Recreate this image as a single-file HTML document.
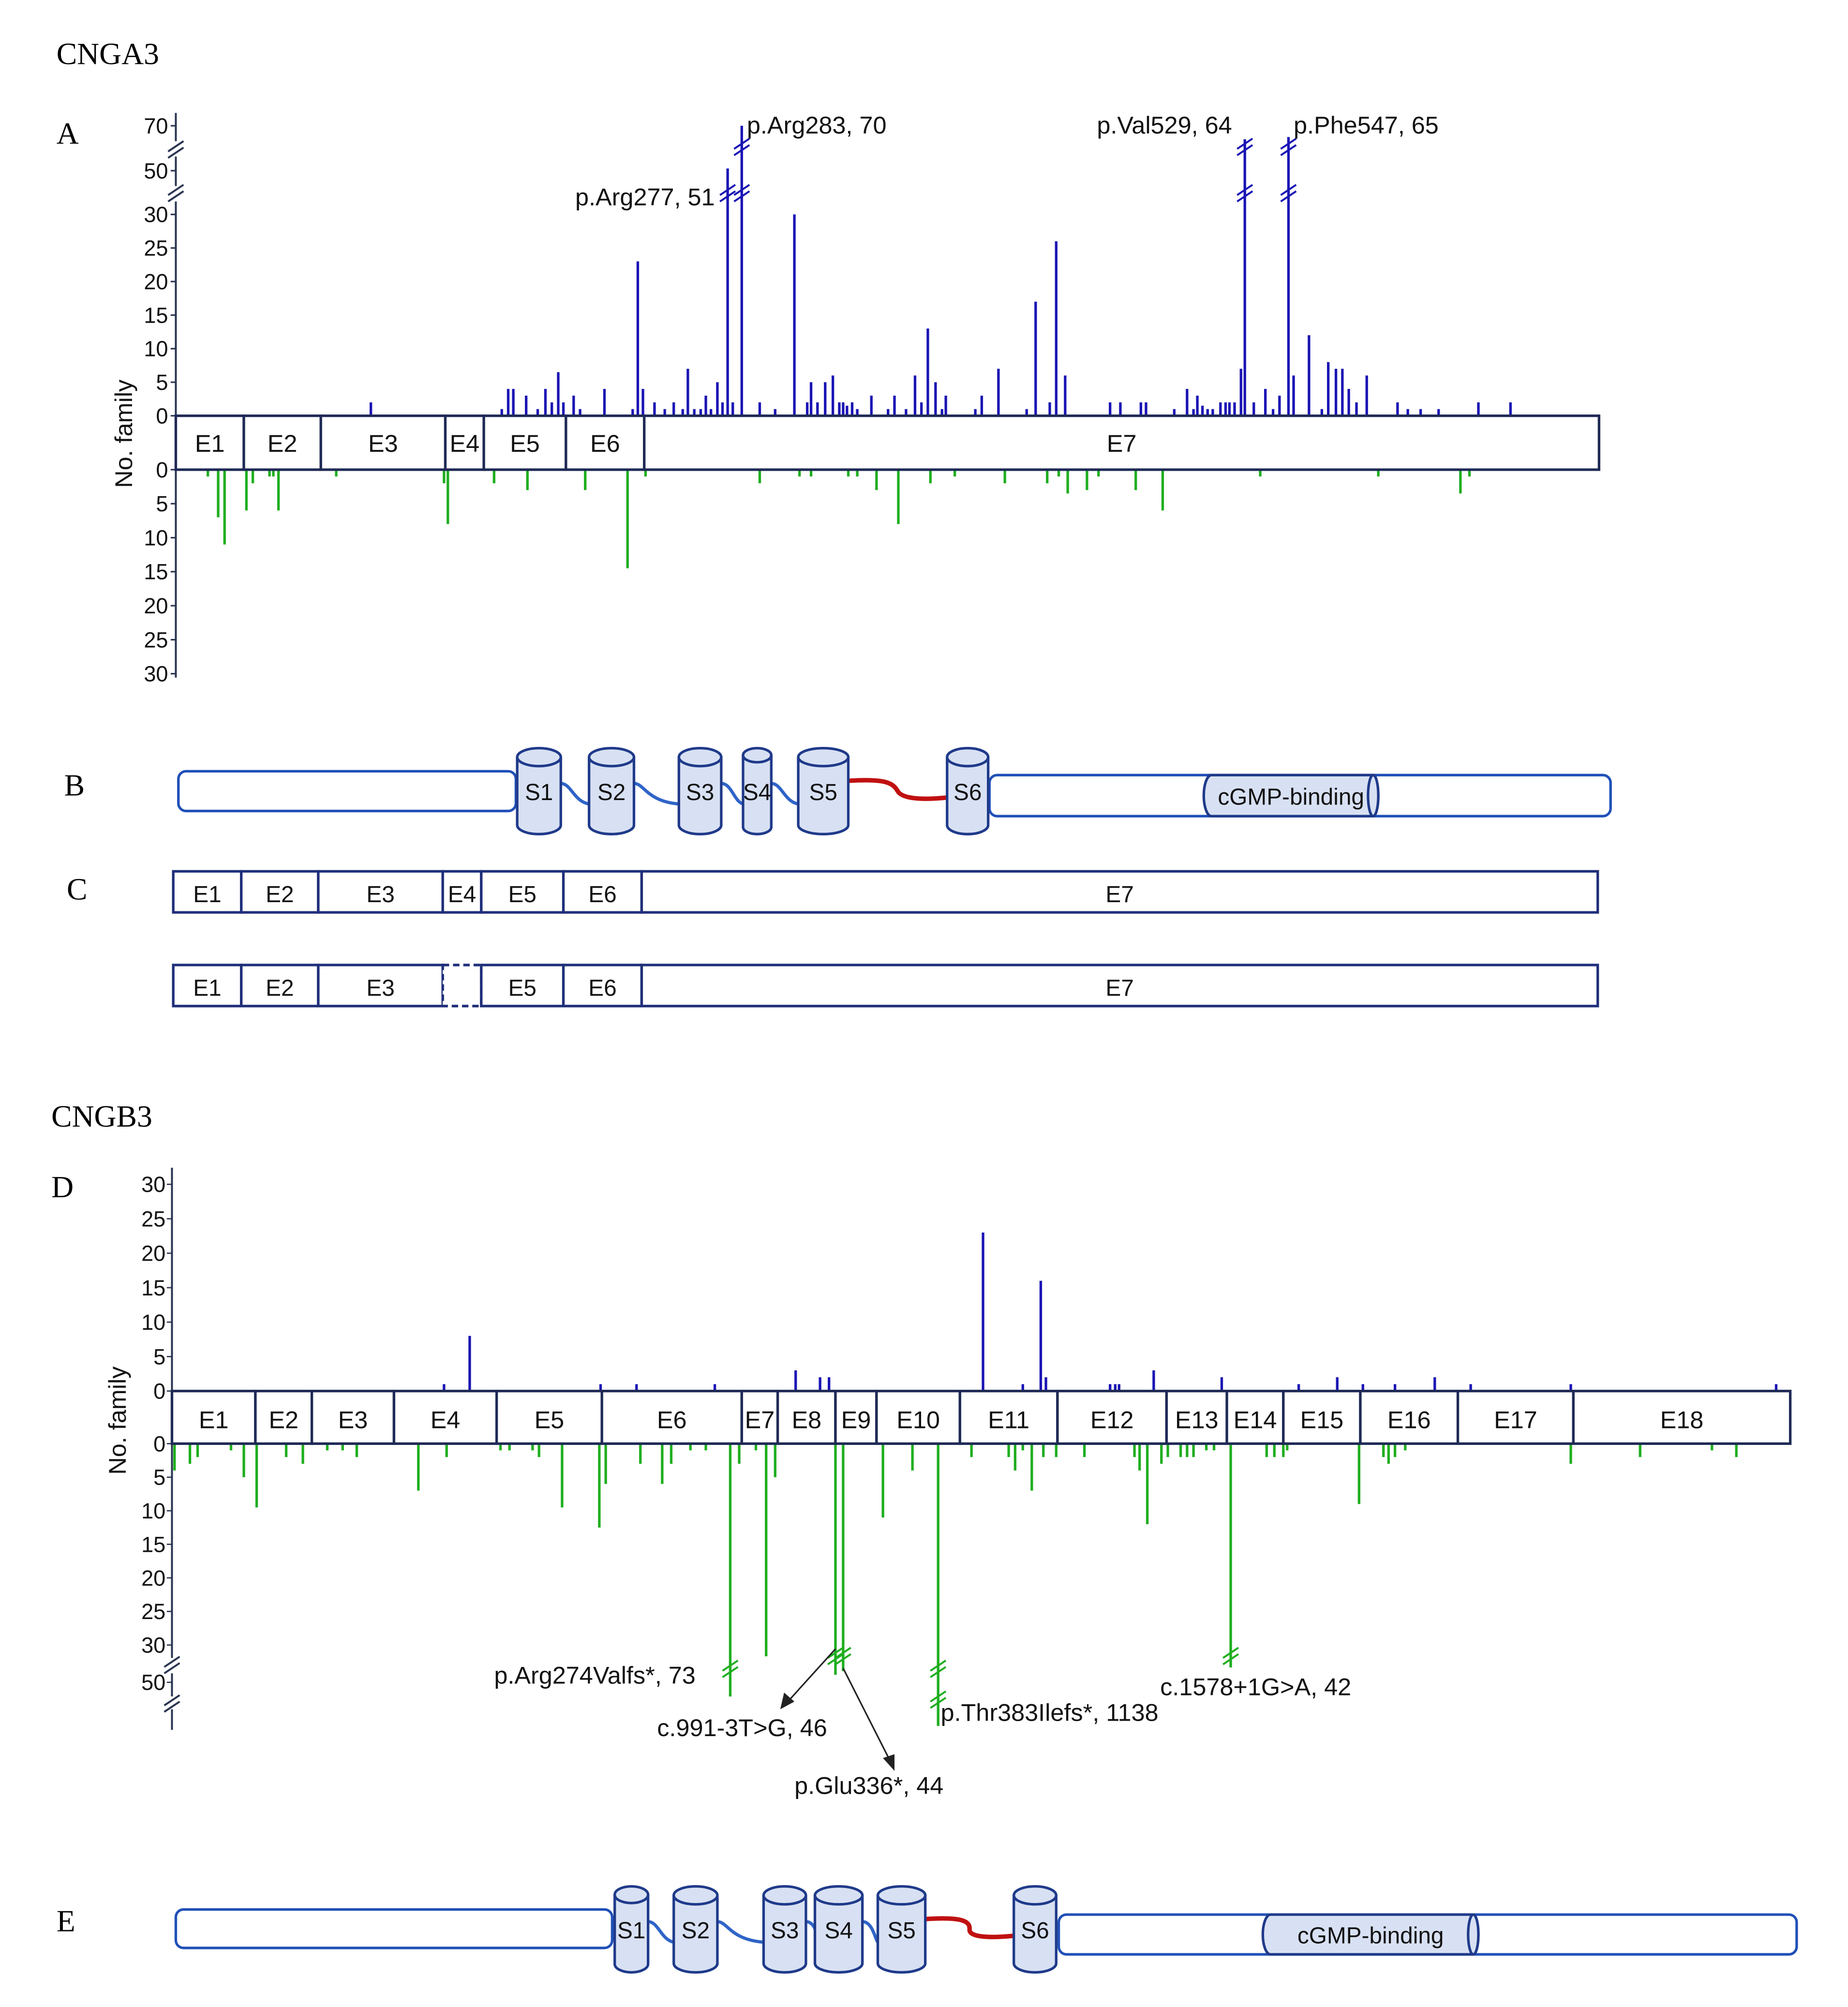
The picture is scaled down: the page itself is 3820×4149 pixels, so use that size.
<!DOCTYPE html>
<html><head><meta charset="utf-8"><style>
html,body{margin:0;padding:0;background:#fff;}
svg{display:block;font-family:"Liberation Sans",sans-serif;}
.ser{font-family:"Liberation Serif",serif;}
</style></head><body>
<svg id="fig" xmlns="http://www.w3.org/2000/svg" width="3820" height="4149" viewBox="0 0 1440 1564">
<rect x="0" y="0" width="1440" height="1564" fill="#fff"/>
<text class="ser" x="44" y="50" font-size="24">CNGA3</text>
<text class="ser" x="44" y="112" font-size="24">A</text>
<text class="ser" x="50" y="620" font-size="24">B</text>
<text class="ser" x="52" y="701" font-size="24">C</text>
<text class="ser" x="40" y="878" font-size="24">CNGB3</text>
<text class="ser" x="40" y="933" font-size="24">D</text>
<text class="ser" x="44" y="1505" font-size="24">E</text>
<g id="layer"></g>
</svg>
<script>
// ---------- CNGA3 data (position along gene, relative units 0..1109) ----------
const aUpPos = [152,254,259,263,273,282,288,293,298,302,310,315,334,356,360,364,373,381,388,395,399,404,409,413,417,422,426,430,434,441,455,467,482,492,495,500,506,512,517,520,523,527,531,542,555,560,569,576,581,586,592,597,600,623,628,641,663,670,681,686,693,728,736,752,756,778,788,793,796,800,804,808,814,818,821,825,830,833,840,849,855,860,867,871,883,893,898,904,909,914,920,928,952,960,970,984,1015,1040];
const aUpVal = [2,1,4,4,3,1,4,2,6.5,2,3,1,4,1,23,4,2,1,2,1,7,1,1,3,1,5,2,51,2,70,2,1,30,2,5,2,5,6,2,2,1.5,2,1,3,1,3,1,6,2,13,5,1,3,1,3,7,1,17,2,26,6,2,2,2,2,1,4,1,3,1.5,1,1,2,2,2,2,7,64,2,4,1,3,65,6,12,1,8,7,7,4,2,6,2,1,1,1,2,2];
const aLoPos = [25,33,38,55,60,73,76,80,125,209,212,248,274,319,352,366,455,486,495,524,531,546,563,588,607,646,679,688,695,710,719,748,769,845,937,1001,1008];
const aLoVal = [1,7,11,6,2,1,1,6,1,2,8,2,3,3,14.5,1,2,1,1,1,1,3,8,2,1,2,2,1,3.5,3,1,3,6,1,1,3.5,1];
const aUpTicks = [0,5,10,15,20,25,30];
const aBreakTicks = [50,70];
const aLoTicks = [0,5,10,15,20,25,30];
const aExons = ["E1","E2","E3","E4","E5","E6","E7"];
const aExonEnds = [53,113,210,240,304,365,1109];
const aLabels = [["p.Arg277, 51",430,"end"],["p.Arg283, 70",441,"start"],["p.Val529, 64",833,"end"],["p.Phe547, 65",867,"start"]];
// ---------- CNGB3 data (relative units 0..1261) ----------
const dUpPos = [212,232,334,362,423,486,505,512,632,663,677,681,731,735,738,765,818,878,908,928,953,984,1012,1090,1250];
const dUpVal = [1,8,1,1,1,3,2,2,23,1,16,2,1,1,1,3,2,1,2,1,1,2,1,1,1];
const dLoPos = [2,14,20,46,56,66,89,102,121,133,144,192,214,256,263,281,286,304,333,338,365,382,389,404,416,435,442,455,463,470,517,523,554,577,597,623,652,657,663,670,679,689,711,750,754,760,771,776,786,791,796,806,812,825,853,859,866,869,925,944,948,953,961,1090,1144,1200,1219];
const dLoVal = [4,3,2,1,5,9.5,2,3,1,1,2,7,2,1,1,1,2,9.5,12.5,6,3,6,3,1,1,73,3,1,36,5,46,44,11,4,1138,2,2,4,1,7,2,2,2,2,4,12,3,2,2,2,2,1,1,42,2,2,2,1,9,2,3,2,1,3,2,1,2];
const dUpTicks = [0,5,10,15,20,25,30];
const dLoTicks = [0,5,10,15,20,25,30];
const dBreakTicks = [50];
const dExons = ["E1","E2","E3","E4","E5","E6","E7","E8","E9","E10","E11","E12","E13","E14","E15","E16","E17","E18"];
const dExonEnds = [65,109,173,253,335,444,472,517,549,614,690,775,822,866,926,1002,1092,1261];

const NS="http://www.w3.org/2000/svg";
const layer=document.getElementById('layer');
function mk(tag,attrs,parent){const e=document.createElementNS(NS,tag);for(const k in attrs)e.setAttribute(k,attrs[k]);(parent||layer).appendChild(e);return e;}
function txt(x,y,s,size,anchor,parent){const t=mk('text',{x:x,y:y,'font-size':size,'text-anchor':anchor||'start',fill:'#111'},parent);t.textContent=s;return t;}
function brk(x,y,col,g){mk('path',{d:`M${x-6} ${y+4} L${x+6} ${y-4} M${x-6} ${y+9} L${x+6} ${y+1}`,stroke:col,'stroke-width':1.5,fill:'none'},g);}

// ===== Panel A =====
const AX0=137, AW=1109;
const ax = p => AX0 + p*AW/1109;
const ayUp = v => v<=30 ? 324 - v*5.23 : 133 - (v-50)*1.75;
const ayLo = v => 366 + v*5.3;
const gA=mk('g',{});


// axis
mk('path',{d:'M137 88 L137 110 M137 122 L137 145 M137 157 L137 324 M137 366 L137 528',stroke:'#2a3550','stroke-width':1.5,fill:'none'},gA);
brk(137,114,'#2a3550',gA); brk(137,148,'#2a3550',gA);
aUpTicks.concat(aBreakTicks).forEach(t=>{const y=ayUp(t);mk('line',{x1:133,x2:137,y1:y,y2:y,stroke:'#2a3550','stroke-width':1.2},gA);const tt=txt(131,y+6,String(t),17,'end',gA);});
aLoTicks.forEach(t=>{const y=ayLo(t);mk('line',{x1:133,x2:137,y1:y,y2:y,stroke:'#2a3550','stroke-width':1.2},gA);const tt=txt(131,y+6,String(t),17,'end',gA);});
const ylA=txt(0,0,'No. family',19,'middle',gA);ylA.setAttribute('transform','translate(103,338) rotate(-90)');

// bars
aUpPos.forEach((p,i)=>{const v=aUpVal[i],x=ax(p);
 const l=mk('line',{x1:x,x2:x,y1:324,y2:ayUp(v),stroke:'#1a14b4','stroke-width':2},gA);
 
 if(v>30){brk(x,148,'#1a14b4',gA); if(v>55) brk(x,112,'#1a14b4',gA);}
});
aLoPos.forEach((p,i)=>{const x=ax(p);
 const l=mk('line',{x1:x,x2:x,y1:366,y2:ayLo(aLoVal[i]),stroke:'#1fae1f','stroke-width':2},gA);
 });
// exon boxes
let prev=0;aExons.forEach((n,i)=>{const x1=ax(prev),x2=ax(aExonEnds[i]);
 const r=mk('rect',{x:x1,y:324,width:x2-x1,height:42,fill:'#fff',stroke:'#1f2a55','stroke-width':2},gA);
 
 txt((x1+x2)/2,352,n,19,'middle',gA);prev=aExonEnds[i];});
aLabels.forEach(l=>{const x=ax(l[1]);const v=aUpVal[aUpPos.indexOf(l[1])];const y=v>60?104:160;
 const t=txt(l[2]==='end'?x-10:x+4,y,l[0],19,l[2],gA);});

// ===== cylinder helper =====
function cyl(x,w,y1,y2,label,g){const rx=w/2,ry=Math.min(7,w/4);
 const c=mk('g',{},g);
 mk('path',{d:`M${x} ${y1+ry} L${x} ${y2-ry} A${rx} ${ry} 0 0 0 ${x+w} ${y2-ry} L${x+w} ${y1+ry}`,fill:'#d8e1f3',stroke:'#1f3a8a','stroke-width':2},c);
 mk('ellipse',{cx:x+rx,cy:y1+ry,rx:rx,ry:ry,fill:'#d8e1f3',stroke:'#1f3a8a','stroke-width':2},c);
 txt(x+rx,(y1+y2)/2+7,label,18,'middle',c);}
function hcyl(x1,x2,y,h,label,g){const c=mk('g',{},g);
 mk('path',{d:`M${x1+6} ${y} L${x2-4} ${y} A4 ${h/2} 0 0 1 ${x2-4} ${y+h} L${x1+6} ${y+h} A6 ${h/2} 0 0 1 ${x1+6} ${y}`,fill:'#d8e1f3',stroke:'#1f3a8a','stroke-width':2},c);
 mk('ellipse',{cx:x2-4,cy:y+h/2,rx:4,ry:h/2,fill:'#d8e1f3',stroke:'#1f3a8a','stroke-width':2},c);
 txt((x1+x2)/2,y+h/2+7,label,18,'middle',c);}
function protein(g,left,cyls,right,cg,yTop,yBot){
 mk('rect',{x:left[0],y:left[1],width:left[2]-left[0],height:left[3],rx:6,fill:'#fff',stroke:'#2050b8','stroke-width':2},g);
 mk('rect',{x:right[0],y:right[1],width:right[2]-right[0],height:right[3],rx:6,fill:'#fff',stroke:'#2050b8','stroke-width':2},g);
 // loops
 for(let i=0;i<cyls.length-1;i++){const a=cyls[i][0]+cyls[i][1],b=cyls[i+1][0];const m=(yTop+yBot)/2;
  const red=i===cyls.length-2;
  mk('path',{d:red?`M${a} ${m-8} C${a+30} ${m-10} ${a+35} ${m-6} ${(a+b)/2} ${m} S${b-20} ${m+7} ${b} ${m+5}`:`M${a} ${m-6} C${a+8} ${m-6} ${a+10} ${m+8} ${b} ${m+10}`,stroke:red?'#c01010':'#2f64c8','stroke-width':red?3.5:2.5,fill:'none'},g);}
 cyls.forEach(c=>cyl(c[0],c[1],yTop,yBot,c[2],g));
 hcyl(cg[0],cg[1],right[1],right[3],'cGMP-binding',g);}
const gB=mk('g',{});
protein(gB,[139,601,402,31],[[403,34,'S1'],[459,35,'S2'],[529,33,'S3'],[579,22,'S4'],[622,39,'S5'],[738,32,'S6']],[771,604,1255,32],[938,1074],583,650);
// ===== Panel C =====
function exonRow(y,dashE4,nm){const g=mk('g',{});
 const ends=[135,188,248,345,375,439,500,1245];
 for(let i=0;i<7;i++){const x1=ends[i],x2=ends[i+1];
  mk('rect',{x:x1,y:y,width:x2-x1,height:32,fill:'#fff',stroke:'#1f2f7a','stroke-width':2,'stroke-dasharray':(dashE4&&i===3)?'5,3':'none'},g);
  if(!(dashE4&&i===3)) txt((x1+x2)/2,y+24,aExons[i],18,'middle',g);}}
exonRow(679,false,'c-transcript-full');exonRow(752,true,'c-transcript-skip-e4');

// ===== Panel D =====
const DX0=134,DW=1261;
const dx=p=>DX0+p*DW/1261;
const dyUp=v=>1084-v*5.37;
const dyLo=v=>v<=30?1125+v*5.23:(v<=50?1282+(v-30)*1.45:Math.min(1345,1311+(v-50)*0.48));
const gD=mk('g',{});
mk('path',{d:'M134 910 L134 1084 M134 1125 L134 1292 M134 1304 L134 1322 M134 1332 L134 1348',stroke:'#2a3550','stroke-width':1.5,fill:'none'},gD);
brk(134,1295,'#2a3550',gD);brk(134,1325,'#2a3550',gD);
dUpTicks.forEach(t=>{const y=dyUp(t);mk('line',{x1:130,x2:134,y1:y,y2:y,stroke:'#2a3550'},gD);txt(129,y+6,String(t),17,'end',gD);});
dLoTicks.concat(dBreakTicks).forEach(t=>{const y=t===50?1311:dyLo(t);mk('line',{x1:130,x2:134,y1:y,y2:y,stroke:'#2a3550'},gD);txt(129,y+6,String(t),17,'end',gD);});
const ylD=txt(0,0,'No. family',19,'middle',gD);ylD.setAttribute('transform','translate(98,1107) rotate(-90)');

dUpPos.forEach((p,i)=>{const x=dx(p);const l=mk('line',{x1:x,x2:x,y1:1084,y2:dyUp(dUpVal[i]),stroke:'#1a14b4','stroke-width':2},gD);
 });
dLoPos.forEach((p,i)=>{const v=dLoVal[i],x=dx(p);const l=mk('line',{x1:x,x2:x,y1:1125,y2:dyLo(v),stroke:'#1fae1f','stroke-width':2},gD);
 
 if(v>38){brk(x,v>70?1298:1288,'#1fae1f',gD); if(v>1000) brk(x,1322,'#1fae1f',gD);}});
prev=0;dExons.forEach((n,i)=>{const x1=dx(prev),x2=dx(dExonEnds[i]);
 const r=mk('rect',{x:x1,y:1084,width:x2-x1,height:41,fill:'#fff',stroke:'#1f2a55','stroke-width':2},gD);
 
 txt((x1+x2)/2,1113,n,19,'middle',gD);prev=dExonEnds[i];});
[["p.Arg274Valfs*, 73",385,1312],["c.991-3T>G, 46",512,1353],["p.Glu336*, 44",619,1398],["p.Thr383Ilefs*, 1138",733,1341],["c.1578+1G>A, 42",904,1321]].forEach(a=>{
 const t=txt(a[1],a[2],a[0],19,'start',gD);});
mk('path',{d:'M651 1285 L613 1327',stroke:'#222','stroke-width':1.2,fill:'none'},gD);
mk('path',{d:'M608 1332 L611 1319 L619 1326 Z',fill:'#222'},gD);
mk('path',{d:'M657 1300 L695 1375',stroke:'#222','stroke-width':1.2,fill:'none'},gD);
mk('path',{d:'M697 1380 L688 1370 L697 1367 Z',fill:'#222'},gD);
// ===== Panel E =====
const gE=mk('g',{});
protein(gE,[137,1488,477,30],[[479,26,'S1'],[525,34,'S2'],[595,33,'S3'],[635,37,'S4'],[684,37,'S5'],[790,33,'S6']],[825,1492,1400,31],[984,1152],1470,1537);
</script>
</body></html>
